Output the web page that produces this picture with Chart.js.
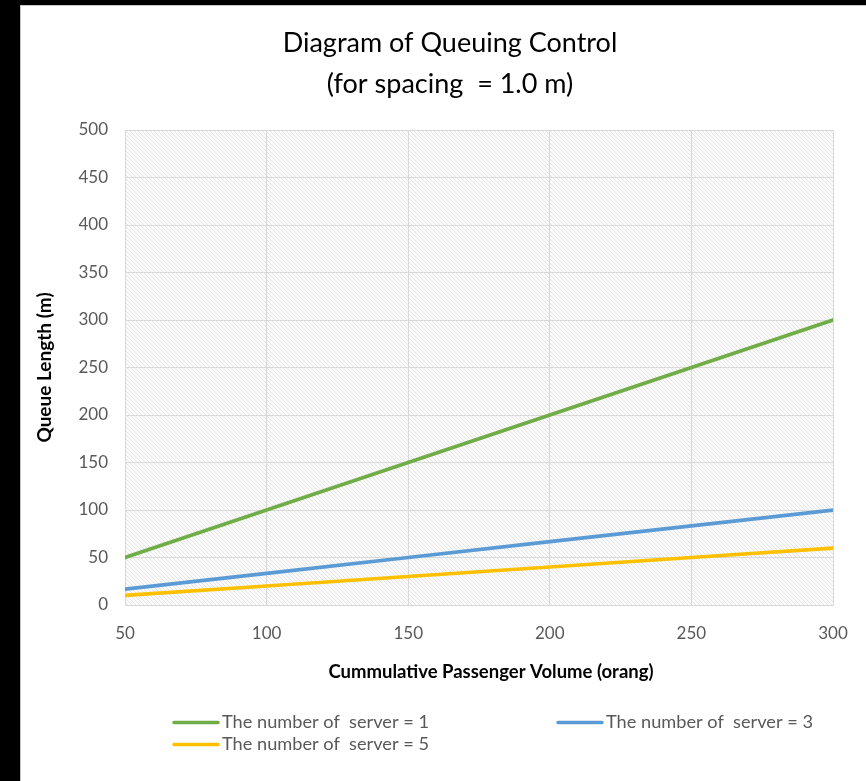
<!DOCTYPE html>
<html>
<head>
<meta charset="utf-8">
<script src="https://cdn.jsdelivr.net/npm/chart.js@4/dist/chart.umd.min.js"></script>
<style>
  html, body { margin: 0; padding: 0; background: #000; width: 866px; height: 781px; overflow: hidden; }
  #frame { position: absolute; left: 20px; top: 5px; width: 845px; height: 775px; background: #fff;
           border-left: 1px solid #c8c8c8; border-top: 1px solid #c8c8c8; }
  canvas { display: block; }
</style>
</head>
<body>
<div id="frame"><canvas id="c" width="845" height="775"></canvas></div>
<script>
// Cumulative passenger volume (orang) on the x axis
const volume = [50, 100, 150, 200, 250, 300];
// Queue length (m) for each number of servers
const server1 = [50, 100, 150, 200, 250, 300];
const server3 = [16.7, 33.3, 50, 66.7, 83.3, 100];
const server5 = [10, 20, 30, 40, 50, 60];
const seriesLabels = ['The number of  server = 1', 'The number of  server = 3', 'The number of  server = 5'];
const seriesColors = ['#70AD47', '#5B9BD5', '#FFC000'];
const titleLines = ['Diagram of Queuing Control', '(for spacing  = 1.0 m)'];
const xTitle = 'Cummulative Passenger Volume (orang)';
const yTitle = 'Queue Length (m)';

const FONT = 'Lato, "Open Sans", sans-serif';

function pairs(ys) { return volume.map((x, i) => ({ x: x, y: ys[i] })); }

// diagonal hatching used as plot-area fill
function makeHatch(ctx) {
  const t = document.createElement('canvas');
  t.width = 4; t.height = 4;
  const g = t.getContext('2d');
  g.fillStyle = '#fbfbfb';
  g.fillRect(0, 0, 4, 4);
  g.fillStyle = '#e4e4e4';
  for (let i = 0; i < 4; i++) g.fillRect(i, i, 1, 1);
  return ctx.createPattern(t, 'repeat');
}

const hatchPlugin = {
  id: 'hatch',
  beforeDraw(chart) {
    const { ctx, chartArea: a } = chart;
    ctx.save();
    ctx.fillStyle = makeHatch(ctx);
    ctx.fillRect(a.left, a.top, a.right - a.left, a.bottom - a.top);
    ctx.restore();
  }
};

// x axis caption and two-column legend below the plot
const footerPlugin = {
  id: 'footer',
  afterDraw(chart) {
    const { ctx, chartArea: a } = chart;
    ctx.save();
    ctx.fillStyle = '#000';
    ctx.font = 'bold 18.5px ' + FONT;
    ctx.textAlign = 'center';
    ctx.textBaseline = 'middle';
    ctx.fillText(xTitle, (a.left + a.right) / 2 + 12, a.bottom + 67);

    const slots = [
      { x: a.left + 49, y: a.bottom + 117.5 },
      { x: a.left + 433, y: a.bottom + 117.5 },
      { x: a.left + 49, y: a.bottom + 139.5 }
    ];
    chart.data.datasets.forEach((ds, i) => {
      const s = slots[i];
      ctx.strokeStyle = ds.borderColor;
      ctx.lineWidth = 3.5;
      ctx.lineCap = 'round';
      ctx.beginPath();
      ctx.moveTo(s.x, s.y);
      ctx.lineTo(s.x + 44, s.y);
      ctx.stroke();
      ctx.fillStyle = '#595959';
      ctx.font = '18.2px ' + FONT;
      ctx.textBaseline = 'middle';
      ctx.textAlign = 'left';
      ctx.fillText(ds.label, s.x + 48, s.y);
    });
    ctx.restore();
  }
};

const datasets = [server1, server3, server5].map((ys, i) => ({
  label: seriesLabels[i],
  data: pairs(ys),
  borderColor: seriesColors[i],
  backgroundColor: seriesColors[i],
  borderWidth: 3.75,
  borderCapStyle: 'round',
  pointRadius: 0,
  tension: 0,
  fill: false
}));

new Chart(document.getElementById('c'), {
  type: 'line',
  data: { datasets },
  plugins: [hatchPlugin, footerPlugin],
  options: {
    responsive: false,
    animation: false,
    devicePixelRatio: 1,
    layout: { padding: { top: 0, left: 46, right: 33, bottom: 94 } },
    plugins: {
      legend: { display: false },
      tooltip: { enabled: false },
      title: {
        display: true,
        text: titleLines,
        color: '#000',
        font: { family: FONT, size: 27, weight: 'normal', lineHeight: 41 / 27 },
        padding: { top: 16.5, bottom: 25.5 }
      }
    },
    scales: {
      x: {
        type: 'linear',
        min: 50, max: 300,
        afterFit(s) { s.height = 82; },
        ticks: { stepSize: 50, color: '#595959', font: { family: FONT, size: 17 }, padding: 18 },
        grid: { color: '#d9d9d9', lineWidth: 1, drawTicks: false },
        border: { color: '#d9d9d9' },
        title: { display: false }
      },
      y: {
        min: 0, max: 500,
        afterFit(s) { s.width = 58; },
        ticks: { stepSize: 50, color: '#595959', font: { family: FONT, size: 17 }, padding: 17 },
        grid: { color: '#d9d9d9', lineWidth: 1, drawTicks: false },
        border: { color: '#d9d9d9' },
        title: {
          display: true,
          text: yTitle,
          color: '#000',
          font: { family: FONT, size: 19, weight: 'bold', lineHeight: 20 / 19 },
          padding: { top: -32, bottom: 0 }
        }
      }
    }
  }
});
</script>
</body>
</html>
